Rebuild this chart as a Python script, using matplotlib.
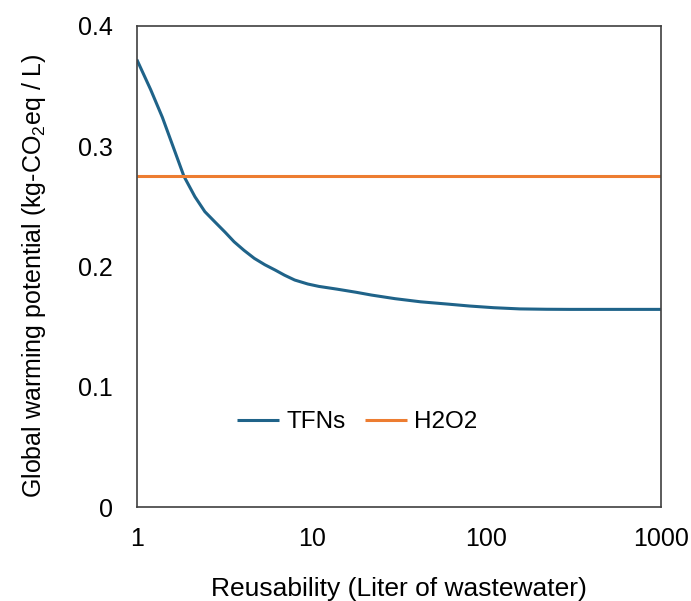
import matplotlib
matplotlib.use("Agg")
import matplotlib.pyplot as plt

plt.rcParams['font.family'] = ['Liberation Sans', 'DejaVu Sans']
plt.rcParams['mathtext.fontset'] = 'custom'
plt.rcParams['mathtext.rm'] = 'Liberation Sans'

reuse = [1, 1.2, 1.4, 1.6, 1.86, 2.15, 2.45, 2.8, 3.2, 3.6, 4.1, 4.7, 5.4, 6.2, 7.0, 8, 9.5, 11, 14, 18, 22, 30, 42, 60, 80, 110, 155, 220, 300, 500, 1000]
tfns = [0.372, 0.347, 0.324, 0.301, 0.275, 0.258, 0.2456, 0.237, 0.2285, 0.2206, 0.2135,
        0.2068, 0.2015, 0.197, 0.1928, 0.1888, 0.1855, 0.1835, 0.1812, 0.1786, 0.1763,
        0.1733, 0.1707, 0.1688, 0.1672, 0.1658, 0.1648, 0.1645, 0.1644, 0.1644, 0.1644]
h2o2_x = [1, 1000]
h2o2 = [0.275, 0.275]
xticks = [1, 10, 100, 1000]
xticklabels = ['1', '10', '100', '1000']
yticks = [0, 0.1, 0.2, 0.3, 0.4]
yticklabels = ['0', '0.1', '0.2', '0.3', '0.4']

fig = plt.figure(figsize=(6.91, 6.01), dpi=100)
ax = fig.add_axes([0.198, 0.156, 0.759, 0.801])
ax.plot(reuse, tfns, color='#1f6389', lw=2.2, label='TFNs', solid_capstyle='butt')
ax.plot(h2o2_x, h2o2, color='#ED7D31', lw=2.2, label='H2O2', solid_capstyle='butt')
ax.set_xscale('log')
ax.set_xlim(1, 1000)
ax.set_ylim(0, 0.4)
ax.set_xticks(xticks)
ax.set_xticklabels(xticklabels)
ax.set_xticks([], minor=True)
ax.set_yticks(yticks)
ax.set_yticklabels(yticklabels)
ax.tick_params(length=0, labelsize=18, colors='#000000')
ax.tick_params(axis='x', pad=14)
ax.tick_params(axis='y', pad=17)
for s in ax.spines.values():
    s.set_color('#404040')
    s.set_linewidth(1.2)
ax.set_xlabel('Reusability (Liter of wastewater)', fontsize=19, labelpad=19)
ax.set_ylabel(r'Global warming potential (kg-CO$\mathregular{_2}$eq / L)', fontsize=18, labelpad=22)
ax.yaxis.label.set_y(0.482)
leg = ax.legend(loc='center', bbox_to_anchor=(0.42, 0.177), ncol=2, frameon=False,
                fontsize=17.5, handlelength=1.73, handletextpad=0.3, columnspacing=0.8)
fig.savefig('out.png', dpi=100)
